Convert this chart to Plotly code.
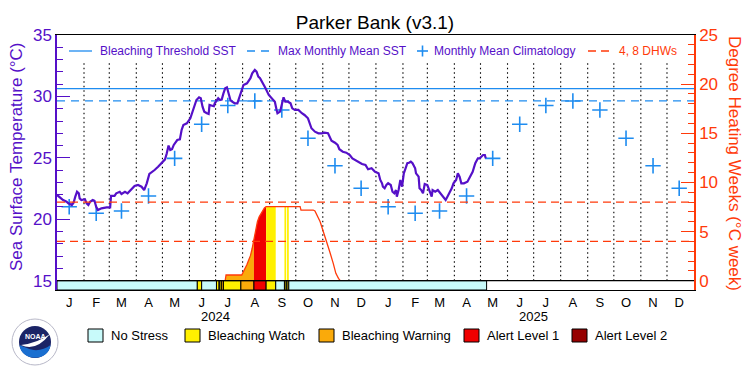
import numpy as np
import pandas as pd
import plotly.graph_objects as go

# ---------------- data ----------------
sst_dates = [
    "2024-01-01", "2024-01-04", "2024-01-08", "2024-01-12", "2024-01-14", "2024-01-18", "2024-01-20", "2024-01-22", "2024-01-24", "2024-01-26", "2024-01-27", "2024-01-29",
    "2024-02-02", "2024-02-04", "2024-02-06", "2024-02-08", "2024-02-11", "2024-02-13", "2024-02-15", "2024-02-17", "2024-02-21", "2024-02-27",
    "2024-03-02", "2024-03-03", "2024-03-07", "2024-03-09", "2024-03-13", "2024-03-15", "2024-03-19", "2024-03-22", "2024-03-26", "2024-03-30",
    "2024-04-03", "2024-04-07", "2024-04-10", "2024-04-13", "2024-04-16", "2024-04-18", "2024-04-22", "2024-04-26", "2024-04-30",
    "2024-05-04", "2024-05-06", "2024-05-08", "2024-05-10", "2024-05-12", "2024-05-14", "2024-05-18", "2024-05-21", "2024-05-23", "2024-05-25", "2024-05-29",
    "2024-06-02", "2024-06-06", "2024-06-09", "2024-06-12", "2024-06-14", "2024-06-16", "2024-06-18", "2024-06-21", "2024-06-23", "2024-06-24", "2024-06-27", "2024-06-29", "2024-06-30",
    "2024-07-02", "2024-07-04", "2024-07-06", "2024-07-08", "2024-07-10", "2024-07-12", "2024-07-14", "2024-07-16", "2024-07-18", "2024-07-20", "2024-07-23", "2024-07-26", "2024-07-28", "2024-07-31",
    "2024-08-02", "2024-08-06", "2024-08-08", "2024-08-10", "2024-08-12", "2024-08-15", "2024-08-17", "2024-08-19", "2024-08-21", "2024-08-24", "2024-08-27", "2024-08-31",
    "2024-09-03", "2024-09-07", "2024-09-09", "2024-09-10", "2024-09-13", "2024-09-15", "2024-09-17", "2024-09-19", "2024-09-22", "2024-09-25", "2024-09-27", "2024-09-30",
    "2024-10-04", "2024-10-08", "2024-10-11", "2024-10-15", "2024-10-17", "2024-10-19", "2024-10-23", "2024-10-27", "2024-10-31",
    "2024-11-03", "2024-11-07", "2024-11-09", "2024-11-11", "2024-11-15", "2024-11-18", "2024-11-20", "2024-11-24", "2024-11-28",
    "2024-12-02", "2024-12-05", "2024-12-09", "2024-12-12", "2024-12-16", "2024-12-20", "2024-12-23", "2024-12-27", "2024-12-29", "2024-12-31",
    "2025-01-04", "2025-01-06", "2025-01-08", "2025-01-09", "2025-01-11", "2025-01-13", "2025-01-15", "2025-01-18", "2025-01-20", "2025-01-22", "2025-01-24", "2025-01-25", "2025-01-27", "2025-01-29", "2025-01-31",
    "2025-02-02", "2025-02-04", "2025-02-06", "2025-02-08", "2025-02-10", "2025-02-12", "2025-02-15", "2025-02-16", "2025-02-19", "2025-02-20", "2025-02-22", "2025-02-24", "2025-02-26",
    "2025-03-01", "2025-03-03", "2025-03-04", "2025-03-06", "2025-03-07", "2025-03-10", "2025-03-13", "2025-03-16", "2025-03-20", "2025-03-22", "2025-03-24", "2025-03-26", "2025-03-29", "2025-03-31",
    "2025-04-03", "2025-04-05", "2025-04-07", "2025-04-09", "2025-04-12", "2025-04-16", "2025-04-19", "2025-04-22", "2025-04-25", "2025-04-28", "2025-04-30",
    "2025-05-02", "2025-05-04", "2025-05-06", "2025-05-07",
]
sst_values = [
    21.98, 21.79, 21.57, 21.43, 21.30, 21.16, 21.35, 21.84, 22.24, 22.11, 21.70, 21.57,
    21.63, 21.30, 21.16, 21.43, 21.57, 21.51, 21.02, 20.75, 20.89, 20.97,
    20.97, 21.90, 21.90, 22.11, 22.24, 22.06, 22.24, 22.11, 22.38, 22.71,
    22.79, 22.65, 22.38, 22.93, 23.69, 23.79, 24.01, 24.28, 24.60,
    24.88, 25.37, 26.00, 25.64, 25.70, 26.05, 26.45, 26.50, 27.27, 27.67, 27.81,
    28.22, 29.16, 29.71, 29.93, 29.85, 29.16, 28.76, 28.63, 28.57, 29.30, 29.25, 29.20, 29.44,
    29.71, 29.85, 29.71, 29.75, 30.25, 30.66, 30.74, 30.12, 29.71, 29.57, 29.44, 29.44, 29.85, 30.39,
    30.93, 31.07, 31.28, 31.48, 31.88, 32.15, 32.01, 31.61, 31.48, 31.12, 30.70, 30.12,
    29.85, 29.57, 28.90, 28.63, 28.76, 29.30, 29.93, 29.57, 29.57, 29.44, 29.03, 28.90,
    28.90, 28.63, 28.49, 28.22, 27.81, 27.41, 27.13, 27.00, 27.00,
    27.05, 27.00, 26.72, 26.40, 26.23, 26.05, 25.70, 25.50, 25.42,
    25.23, 24.96, 24.77, 24.69, 24.50, 24.42, 24.07, 24.15, 24.01, 23.87,
    23.74, 23.20, 22.93, 22.65, 22.52, 22.79, 22.93, 22.79, 22.24, 22.11, 22.38, 21.84, 22.38, 23.20, 22.65,
    23.74, 24.15, 24.56, 24.60, 24.69, 24.56, 24.15, 23.74, 23.47, 22.52, 22.38, 22.11, 22.87,
    22.79, 22.38, 22.11, 21.84, 22.38, 22.24, 22.38, 22.11, 21.70, 21.57, 21.84, 22.11, 22.52, 22.93,
    23.20, 23.74, 23.47, 22.93, 22.93, 23.06, 23.47, 23.87, 24.56, 24.96, 24.96,
    25.09, 25.23, 25.23, 24.96,
]

clim_years = [2024, 2025]
clim_values = [21.02, 20.49, 20.67, 21.89, 24.96, 27.73, 29.26, 29.63, 28.90, 26.59, 24.36, 22.52]
mmm_sst = 29.63
bleaching_threshold = 30.63
dhw_guides = [4, 8]

dhw_dates = [
    "2024-07-12", "2024-07-13", "2024-07-31", "2024-08-02", "2024-08-04", "2024-08-06", "2024-08-08",
    "2024-08-10", "2024-08-12", "2024-08-14", "2024-08-16", "2024-08-18", "2024-08-20", "2024-08-22",
    "2024-08-24", "2024-08-26", "2024-08-28", "2024-10-06", "2024-10-07", "2024-10-21", "2024-10-23",
    "2024-10-26", "2024-10-29", "2024-11-01", "2024-11-05", "2024-11-09", "2024-11-13", "2024-11-16",
    "2024-11-19", "2024-11-21",
]
dhw_values = [
    0.0, 0.58, 0.58, 0.92, 1.25, 1.65, 2.10,
    2.55, 3.30, 4.20, 5.30, 6.00, 6.50, 6.85,
    7.15, 7.40, 7.53, 7.53, 7.19, 7.19, 7.10,
    6.60, 6.00, 5.16, 4.14, 2.95, 1.77, 0.75,
    0.24, 0.0,
]

# daily stress level runs (0 no stress ... 4 alert level 2)
stress_starts = ["2024-01-01", "2024-06-10", "2024-06-15", "2024-07-02", "2024-07-05", "2024-07-06",
                 "2024-07-08", "2024-07-10", "2024-07-30", "2024-08-14", "2024-08-28", "2024-09-08",
                 "2024-09-18", "2024-09-20", "2024-09-21", "2024-09-23"]
stress_ends = ["2024-06-10", "2024-06-15", "2024-07-02", "2024-07-05", "2024-07-06", "2024-07-08",
               "2024-07-10", "2024-07-30", "2024-08-14", "2024-08-28", "2024-09-08", "2024-09-18",
               "2024-09-20", "2024-09-21", "2024-09-23", "2025-05-08"]
stress_levels = [0, 1, 0, 1, 0, 1, 2, 1, 2, 3, 1, 0, 1, 0, 1, 0]

# colour of the area under the DHW curve
fill_starts = ["2024-07-13", "2024-08-14", "2024-08-28", "2024-09-18", "2024-09-21"]
fill_ends = ["2024-08-14", "2024-08-28", "2024-09-08", "2024-09-20", "2024-09-23"]
fill_levels = [2, 3, 1, 1, 1]

month_letters = ["J", "F", "M", "A", "M", "J", "J", "A", "S", "O", "N", "D"]
year_labels = ["2024", "2025"]
stress_names = ["No Stress", "Bleaching Watch", "Bleaching Warning", "Alert Level 1", "Alert Level 2"]

# ---------------- style ----------------
PURPLE = "#5510c8"
BLUE = "#1e8cf0"
RED = "#ff3a0a"
STRESS_COLORS = ["#c8fafa", "#fff000", "#faaa0a", "#f00000", "#960000"]
FONT = "Liberation Sans"

W, H = 750, 375
L, R, T, B = 57, 56, 35, 85
PW, PH = W - L - R, H - T - B
Y_MIN, Y_MAX = 14.243, 35.0
Y2_MIN, Y2_MAX = -0.946, 25.0
X_START, X_END = "2024-01-01", "2026-01-01"


def px(x):
    return (x - L) / PW


def py(y):
    return (H - B - y) / PH


fig = go.Figure()

# area under DHW coloured by stress
dhw_ns = pd.to_datetime(dhw_dates).asi8
dhw_arr = np.array(dhw_values)
for s, e, lvl in zip(fill_starts, fill_ends, fill_levels):
    ts, te = pd.Timestamp(s).value, pd.Timestamp(e).value
    inner = [(d, v) for d, v, n in zip(dhw_dates, dhw_values, dhw_ns) if ts < n < te]
    xs = [s] + [d for d, _ in inner] + [e]
    ys = [float(np.interp(ts, dhw_ns, dhw_arr))] + [v for _, v in inner] + [float(np.interp(te, dhw_ns, dhw_arr))]
    fig.add_trace(go.Scatter(x=xs, y=ys, yaxis="y2", mode="lines", fill="tozeroy",
                             fillcolor=STRESS_COLORS[lvl], line=dict(width=0),
                             hoverinfo="skip", showlegend=False))

# dotted month separators
month_starts = pd.date_range("2024-02-01", "2025-12-01", freq="MS")
gx, gy = [], []
for d in month_starts:
    gx += [d, d, None]
    gy += [15, 32.7, None]
fig.add_trace(go.Scatter(x=gx, y=gy, mode="lines", line=dict(color="black", width=1.1, dash="1.5px,3px"),
                         hoverinfo="skip", showlegend=False))

# DHW guide lines
for g in dhw_guides:
    fig.add_trace(go.Scatter(x=[X_START, X_END], y=[g, g], yaxis="y2", mode="lines",
                             line=dict(color=RED, width=1.3, dash="8px,5px"),
                             hoverinfo="skip", showlegend=False))

# MMM and bleaching threshold
fig.add_trace(go.Scatter(x=[X_START, X_END], y=[mmm_sst, mmm_sst], mode="lines",
                         line=dict(color=BLUE, width=1.3, dash="8px,6px"), showlegend=False))
fig.add_trace(go.Scatter(x=[X_START, X_END], y=[bleaching_threshold, bleaching_threshold], mode="lines",
                         line=dict(color=BLUE, width=1.3), showlegend=False))

# DHW line
fig.add_trace(go.Scatter(x=dhw_dates, y=dhw_values, yaxis="y2", mode="lines",
                         line=dict(color=RED, width=1.3), showlegend=False))

# monthly mean climatology
clim_x, clim_y = [], []
for yr in clim_years:
    for m, v in enumerate(clim_values, start=1):
        clim_x.append(pd.Timestamp(yr, m, 15))
        clim_y.append(v)
fig.add_trace(go.Scatter(x=clim_x, y=clim_y, mode="markers",
                         marker=dict(symbol="cross-thin", size=11, line=dict(color=BLUE, width=1.6)),
                         showlegend=False))

# SST line
fig.add_trace(go.Scatter(x=sst_dates, y=sst_values, mode="lines",
                         line=dict(color=PURPLE, width=2.2), showlegend=False))

shapes = []
# stress bar
for s, e, lvl in zip(stress_starts, stress_ends, stress_levels):
    shapes.append(dict(type="rect", xref="x", yref="y", x0=s, x1=e, y0=Y_MIN, y1=15,
                       fillcolor=STRESS_COLORS[lvl], line=dict(color="black", width=1), layer="above"))
shapes.append(dict(type="line", xref="paper", yref="y", x0=0, x1=1, y0=15, y1=15,
                   line=dict(color="black", width=1.2), layer="above"))

annotations = []
# top legend
LEG_Y = 51
shapes.append(dict(type="line", xref="paper", yref="paper", x0=px(69), x1=px(92), y0=py(LEG_Y), y1=py(LEG_Y),
                   line=dict(color=BLUE, width=1.3)))
shapes.append(dict(type="line", xref="paper", yref="paper", x0=px(247), x1=px(271), y0=py(LEG_Y), y1=py(LEG_Y),
                   line=dict(color=BLUE, width=1.3, dash="8px,6px")))
shapes.append(dict(type="line", xref="paper", yref="paper", x0=px(417), x1=px(428), y0=py(LEG_Y), y1=py(LEG_Y),
                   line=dict(color=BLUE, width=1.6)))
shapes.append(dict(type="line", xref="paper", yref="paper", x0=px(422.5), x1=px(422.5), y0=py(LEG_Y - 5.5), y1=py(LEG_Y + 5.5),
                   line=dict(color=BLUE, width=1.6)))
shapes.append(dict(type="line", xref="paper", yref="paper", x0=px(588), x1=px(613), y0=py(LEG_Y), y1=py(LEG_Y),
                   line=dict(color=RED, width=1.3, dash="8px,5px")))
for txt, x0, col in [("Bleaching Threshold SST", 98, PURPLE), ("Max Monthly Mean SST", 276, PURPLE),
                     ("Monthly Mean Climatology", 432, PURPLE), ("4, 8 DHWs", 617, RED)]:
    annotations.append(dict(text=txt, xref="paper", yref="paper", x=px(x0), y=py(LEG_Y), xanchor="left",
                            yanchor="middle", showarrow=False, font=dict(family=FONT, size=12, color=col)))

# years under month letters
for yl in year_labels:
    annotations.append(dict(text=yl, xref="x", yref="paper", x=pd.Timestamp(int(yl), 7, 1), y=py(316),
                            xanchor="center", yanchor="middle", showarrow=False,
                            font=dict(family=FONT, size=13, color="black")))

# bottom stress legend
box_x = [88, 185, 319, 464, 572]
for name, col, bx in zip(stress_names, STRESS_COLORS, box_x):
    shapes.append(dict(type="rect", xref="paper", yref="paper", x0=px(bx), x1=px(bx + 15), y0=py(329), y1=py(342),
                       fillcolor=col, line=dict(color="black", width=1)))
    annotations.append(dict(text=name, xref="paper", yref="paper", x=px(bx + 21), y=py(335.5), xanchor="left",
                            yanchor="middle", showarrow=False, font=dict(family=FONT, size=13, color="black")))

# axis titles
annotations.append(dict(text="Sea Surface Temperature (°C)", xref="paper", yref="paper", x=px(16), y=py(157),
                        textangle=-90, xanchor="center", yanchor="middle", showarrow=False,
                        font=dict(family=FONT, size=17, color=PURPLE)))
annotations.append(dict(text="Degree Heating Weeks (°C week)", xref="paper", yref="paper", x=px(735), y=py(163),
                        textangle=90, xanchor="center", yanchor="middle", showarrow=False,
                        font=dict(family=FONT, size=17, color=RED)))

# NOAA logo (approximation)
shapes.append(dict(type="circle", xref="paper", yref="paper", x0=px(12), x1=px(58), y0=py(319), y1=py(365),
                   fillcolor="white", line=dict(color="#b8b8c8", width=1)))
shapes.append(dict(type="circle", xref="paper", yref="paper", x0=px(19), x1=px(51), y0=py(326), y1=py(358),
                   fillcolor="#1b2466", line=dict(width=0)))


def pth(pts):
    out = []
    for cmd, coords in pts:
        out.append(cmd + " ".join(f"{px(a):.5f},{py(b):.5f}" for a, b in coords))
    return " ".join(out) + " Z"


shapes.append(dict(type="path", xref="paper", yref="paper",
                   path=pth([("M", [(19.5, 345)]), ("C", [(21, 362), (49, 362), (50.5, 345)]),
                             ("C", [(44, 350), (35, 352), (27, 348)]), ("C", [(24, 347), (22, 346), (19.5, 345)])]),
                   fillcolor="#1a6fd0", line=dict(width=0)))
shapes.append(dict(type="path", xref="paper", yref="paper",
                   path=pth([("M", [(21, 345)]), ("Q", [(36, 352), (50, 334)]), ("Q", [(38, 343), (21, 345)])]),
                   fillcolor="white", line=dict(width=0)))
annotations.append(dict(text="<b>NOAA</b>", xref="paper", yref="paper", x=px(35), y=py(336), xanchor="center",
                        yanchor="middle", showarrow=False, font=dict(family=FONT, size=7, color="white")))

tickvals = [pd.Timestamp(yr, m, 15) for yr in clim_years for m in range(1, 13)]
ticktext = month_letters * len(clim_years)

fig.update_layout(
    width=W, height=H,
    margin=dict(l=L, r=R, t=T, b=B, pad=0, autoexpand=False),
    paper_bgcolor="white", plot_bgcolor="white",
    font=dict(family=FONT, color="black"),
    title=dict(text="Parker Bank (v3.1)", x=0.5, xref="container", xanchor="center",
               y=1 - 22 / H, yref="container", yanchor="middle",
               font=dict(family=FONT, size=19, color="black")),
    xaxis=dict(type="date", range=[X_START, X_END], showgrid=False, zeroline=False, automargin=False,
               showline=True, linecolor="black", linewidth=1.2, mirror=True,
               ticks="", tickvals=tickvals, ticktext=ticktext,
               tickfont=dict(family=FONT, size=13, color="black")),
    yaxis=dict(range=[Y_MIN, Y_MAX], showgrid=False, zeroline=False, automargin=False,
               showline=True, linecolor=PURPLE, linewidth=1.5,
               tick0=15, dtick=5, ticks="inside", ticklen=13, tickwidth=1.2, tickcolor=PURPLE,
               tickfont=dict(family=FONT, size=17, color=PURPLE),
               minor=dict(ticks="inside", ticklen=6, tick0=15, dtick=1, tickcolor=PURPLE, tickwidth=1.2, showgrid=False)),
    yaxis2=dict(range=[Y2_MIN, Y2_MAX], overlaying="y", side="right", showgrid=False, zeroline=False,
                automargin=False, showline=True, linecolor=RED, linewidth=1.5,
                tick0=0, dtick=5, ticks="inside", ticklen=13, tickwidth=1.2, tickcolor=RED,
                tickfont=dict(family=FONT, size=17, color=RED),
                minor=dict(ticks="inside", ticklen=6, tick0=0, dtick=1, tickcolor=RED, tickwidth=1.2, showgrid=False)),
    shapes=shapes,
    annotations=annotations,
    showlegend=False,
)

fig.write_html("out.html", config={"displayModeBar": False},
               post_script="document.body.style.margin='0px';document.body.style.padding='0px';")
